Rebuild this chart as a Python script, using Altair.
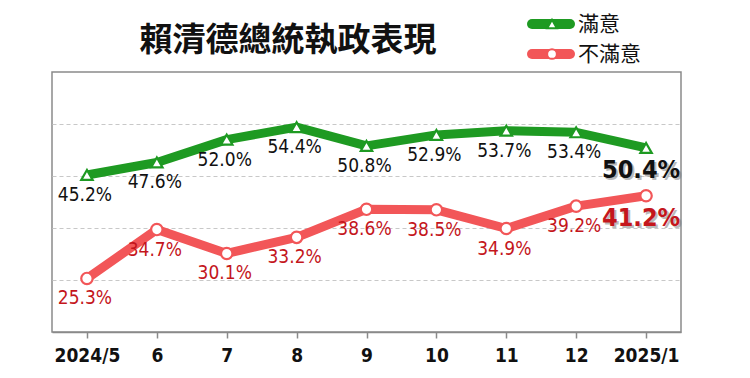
import altair as alt
import pandas as pd

title_text = "賴清德總統執政表現"
months = ["2024/5", "6", "7", "8", "9", "10", "11", "12", "2025/1"]
satisfied = [45.2, 47.6, 52.0, 54.4, 50.8, 52.9, 53.7, 53.4, 50.4]
dissatisfied = [25.3, 34.7, 30.1, 33.2, 38.6, 38.5, 34.9, 39.2, 41.2]
series = ["滿意", "不滿意"]
line_colors = ["#1e9a22", "#f25658"]
label_colors = ["#111111", "#c4161c"]
shapes = ["triangle-up", "circle"]

rows = []
for s, vals in zip(series, [satisfied, dissatisfied]):
    for i, (m, v) in enumerate(zip(months, vals)):
        rows.append({"month": m, "series": s, "value": v,
                     "label": f"{v:.1f}%", "last": i == len(months) - 1})
df = pd.DataFrame(rows)

NUM_FONT = "'Liberation Sans Narrow', 'DejaVu Sans Condensed', 'Liberation Sans', sans-serif"
CJK_FONT = "Noto Sans CJK TC"

x = alt.X("month:O", sort=months,
          scale=alt.Scale(type="point", padding=0.5),
          axis=alt.Axis(title=None, labelAngle=0, labelFont=NUM_FONT,
                        labelFontSize=19, labelFontWeight="bold",
                        labelColor="#111111", labelPadding=8,
                        tickSize=6, tickColor="#8a8a8a", tickWidth=1.5,
                        domainColor="#8a8a8a", domainWidth=1.5, grid=False))
y = alt.Y("value:Q",
          scale=alt.Scale(domain=[15, 65], nice=False, zero=False),
          axis=alt.Axis(title=None, values=[25, 35, 45, 55], labels=False,
                        ticks=False, domain=False, grid=True,
                        gridDash=[4, 3], gridColor="#c8c8c8", gridWidth=1.2))
stroke = alt.Stroke("series:N", scale=alt.Scale(domain=series, range=line_colors), legend=None)
tcolor = alt.Color("series:N", scale=alt.Scale(domain=series, range=label_colors), legend=None)
shape = alt.Shape("series:N", scale=alt.Scale(domain=series, range=shapes), legend=None)

base = alt.Chart(df)

lines = base.mark_line(strokeWidth=9, strokeJoin="round").encode(
    x=x, y=y, stroke=stroke, detail="series:N")
points = base.mark_point(filled=True, fill="white", size=130, strokeWidth=2.2, opacity=1).encode(
    x=x, y=y, stroke=stroke, shape=shape)
labels = base.transform_filter("!datum.last").mark_text(
    dy=20, dx=-2, font=NUM_FONT, fontSize=19, baseline="middle").encode(
    x=x, y=y, text="label:N", color=tcolor)
shadow = base.transform_filter("datum.last").mark_text(
    dy=24, dx=-3, font=NUM_FONT, fontSize=25, fontWeight="bold",
    baseline="middle", color="#777777", opacity=0.5).encode(
    x=x, y=y, text="label:N")
big = base.transform_filter("datum.last").mark_text(
    dy=22, dx=-5, font=NUM_FONT, fontSize=25, fontWeight="bold",
    baseline="middle").encode(
    x=x, y=y, text="label:N", color=tcolor)

title = alt.Chart(pd.DataFrame({"t": [title_text]})).mark_text(
    font=CJK_FONT, fontSize=33, fontWeight="bold", color="#111111",
    align="center", baseline="middle").encode(
    text="t:N", x=alt.value(236), y=alt.value(-31))

legend_layers = []
for i, (s, c, sh) in enumerate(zip(series, line_colors, shapes)):
    ldf = pd.DataFrame({"series": [s]})
    yy = -48 + i * 30
    lc = alt.Chart(ldf)
    legend_layers.append(lc.mark_rule(strokeWidth=10, strokeCap="round", color=c).encode(
        x=alt.value(480), x2=alt.value(518), y=alt.value(yy)))
    legend_layers.append(lc.mark_point(shape=sh, filled=True, fill="white", stroke=c,
                                       size=95, strokeWidth=2, opacity=1).encode(
        x=alt.value(500), y=alt.value(yy)))
    legend_layers.append(lc.mark_text(font=CJK_FONT, fontSize=21, color="#111111",
                                      align="left", baseline="middle").encode(
        text="series:N", x=alt.value(526), y=alt.value(yy + 1)))

chart = alt.layer(lines, points, labels, shadow, big, title, *legend_layers).properties(
    width=629, height=260,
    autosize=alt.AutoSizeParams(type="none"),
    padding={"left": 44, "top": 64, "right": 40, "bottom": 44},
).configure_view(stroke="#8a8a8a", strokeWidth=1.5)

chart.save("out.html", embed_options={"renderer": "svg", "actions": False})
